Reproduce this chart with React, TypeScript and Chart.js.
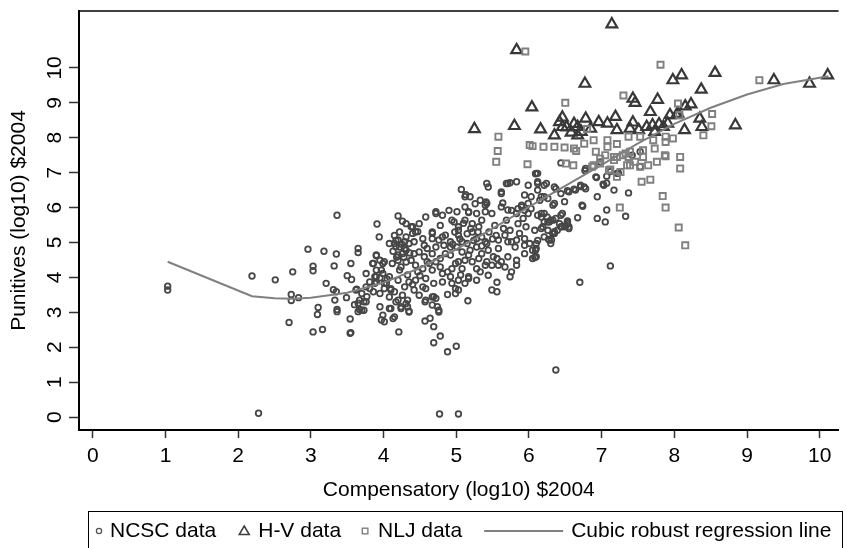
import React, { useEffect, useRef } from "react";
import { Chart, registerables } from "chart.js";

Chart.register(...registerables);

const xTicks = [0, 1, 2, 3, 4, 5, 6, 7, 8, 9, 10];
const yTicks = [0, 1, 2, 3, 4, 5, 6, 7, 8, 9, 10];
const xTitle = "Compensatory (log10) $2004";
const yTitle = "Punitives (log10) $2004";
const legendLabels = ["NCSC data", "H-V data", "NLJ data", "Cubic robust regression line"];

// NCSC data (circles)
const ncscPoints: [number, number][] = [
  [1.03, 3.75], [1.03, 3.64], [2.19, 4.04], [2.51, 3.93], [2.75, 4.16], [2.73, 3.51], [2.73, 3.34], [2.70, 2.71],
  [2.28, 0.11], [2.83, 3.42], [2.96, 4.81], [3.18, 4.75], [3.35, 4.67], [3.32, 4.33], [3.03, 4.32], [3.03, 4.19],
  [3.55, 4.40], [3.50, 4.05], [3.56, 3.94], [3.21, 3.83], [3.31, 3.65], [3.35, 3.59], [3.49, 3.42], [3.63, 3.66],
  [3.33, 3.35], [3.36, 3.08], [3.36, 3.02], [3.10, 3.14], [3.09, 2.94], [3.54, 2.81], [3.03, 2.44], [3.16, 2.51],
  [3.55, 2.42], [3.67, 3.08], [3.73, 3.06], [3.65, 3.02], [3.60, 3.22], [3.73, 3.30], [3.77, 3.45], [3.86, 3.59],
  [3.90, 3.87], [3.95, 3.99], [3.90, 4.21], [3.95, 4.49], [3.90, 4.62], [3.99, 4.40], [3.86, 4.40], [3.88, 4.02],
  [3.99, 4.11], [4.01, 3.83], [4.10, 3.64], [4.17, 3.30], [4.08, 4.97], [4.20, 5.07], [4.17, 4.88], [4.29, 4.83],
  [4.20, 5.76], [4.26, 5.61], [4.38, 5.45], [4.47, 5.31], [3.95, 3.16], [3.99, 2.92], [3.97, 2.78], [4.13, 2.82],
  [4.10, 3.11], [4.15, 2.87], [4.35, 3.03], [4.24, 3.16], [4.57, 3.30], [4.67, 3.21], [4.76, 3.06], [4.69, 3.45],
  [3.36, 5.78], [3.91, 5.53], [3.94, 5.16], [3.65, 4.83], [3.65, 4.71], [3.54, 2.40], [3.62, 3.64], [3.65, 3.26],
  [3.70, 3.06], [4.01, 2.73], [4.21, 2.44],
  [4.88, 1.87], [5.00, 2.03], [4.69, 2.13], [4.78, 2.32], [4.57, 2.75], [4.64, 2.83], [4.69, 2.59], [4.77, 0.09],
  [5.03, 0.09], [6.37, 1.35], [5.16, 3.33], [5.49, 3.64], [5.56, 3.59], [5.56, 3.86], [5.74, 4.02], [4.67, 3.44],
  [4.74, 3.16], [4.76, 3.01], [4.99, 3.68], [4.99, 3.54], [5.03, 3.64], [4.88, 3.51], [4.20, 3.35], [4.33, 3.35],
  [4.33, 3.16], [4.24, 3.11], [4.35, 3.01], [5.83, 4.35], [6.08, 4.57], [6.09, 4.78], [6.01, 4.97], [6.44, 5.78],
  [6.53, 5.54], [6.55, 5.40], [6.35, 5.26], [6.31, 5.07],
  [4.72, 5.83], [4.81, 5.78], [5.17, 5.88], [5.28, 5.83], [5.40, 5.88], [5.49, 5.83], [5.62, 6.02], [5.76, 5.92],
  [5.90, 6.07], [5.99, 5.83], [6.12, 5.78], [6.21, 5.83], [6.30, 5.64],
  [4.40, 5.45], [4.44, 5.30], [4.67, 5.30], [4.78, 5.49], [4.94, 5.64], [5.03, 5.45], [5.22, 5.54], [5.35, 5.64],
  [5.53, 5.49], [5.69, 5.64], [5.85, 5.54], [5.96, 5.45], [6.08, 5.35], [6.19, 5.45], [6.33, 5.26], [6.49, 5.45],
  [4.15, 4.97], [4.31, 5.16], [4.42, 5.02], [4.56, 4.92], [4.67, 5.11], [4.81, 5.16], [4.92, 5.02], [5.03, 5.21],
  [5.15, 4.97], [5.28, 5.11], [5.40, 5.02], [5.58, 5.07], [5.71, 5.02], [5.83, 5.07], [5.94, 4.92], [6.05, 4.78],
  [3.90, 4.64], [4.01, 4.45], [4.20, 4.64], [4.31, 4.78], [4.42, 4.68], [4.56, 4.59], [4.67, 4.68], [4.78, 4.54],
  [4.92, 4.64], [5.03, 4.45], [5.17, 4.64], [5.31, 4.54], [5.42, 4.45], [5.56, 4.54], [5.71, 4.59], [5.83, 4.49],
  [3.85, 4.40], [3.97, 4.21], [4.08, 4.02], [4.22, 4.21], [4.33, 4.07], [4.47, 4.16], [4.58, 3.97], [4.67, 4.21],
  [4.81, 4.11], [4.94, 4.25], [5.06, 4.07], [5.17, 4.02], [5.28, 4.25], [5.40, 4.35], [5.58, 4.35],
  [3.81, 3.87], [3.88, 3.83], [4.01, 3.68], [4.15, 3.59], [4.29, 3.73], [4.42, 3.64], [4.54, 3.73], [4.69, 3.83],
  [4.81, 3.87], [4.94, 3.83], [5.03, 3.92], [5.17, 3.97],
  [3.67, 3.35], [3.76, 3.30], [4.08, 3.11], [4.31, 3.25], [4.58, 3.35], [4.72, 3.40],
  [5.07, 6.52], [5.13, 6.37], [5.19, 6.31], [5.33, 6.21], [5.41, 6.16], [5.17, 5.86], [5.42, 6.69], [5.44, 6.59],
  [5.62, 6.45], [5.71, 6.69], [5.83, 6.74], [5.99, 6.64], [6.10, 6.98], [6.12, 6.69], [6.24, 6.69], [6.35, 6.59],
  [6.44, 6.40], [6.55, 6.45], [6.28, 5.07], [6.44, 5.45], [6.53, 5.59], [6.35, 5.31], [6.46, 5.83], [6.33, 6.07],
  [6.21, 6.31], [6.15, 6.21], [5.94, 6.36], [6.03, 6.31], [5.99, 6.12], [5.85, 5.97], [5.71, 5.93],
  [6.09, 6.97], [6.44, 7.28], [5.12, 6.31], [5.74, 6.71], [5.62, 6.40], [6.64, 6.50], [6.76, 6.59], [6.73, 6.07],
  [6.94, 6.31], [7.03, 6.64], [7.07, 5.93], [6.94, 5.69], [7.05, 5.59], [4.72, 5.88], [5.42, 6.12], [5.64, 6.13],
  [5.90, 6.02], [6.25, 5.73],
  [5.69, 6.69], [6.12, 6.74], [6.21, 6.64], [6.53, 6.48], [6.71, 6.60], [6.78, 7.12], [6.92, 6.88], [7.17, 6.50],
  [7.37, 6.42], [7.42, 7.50], [7.53, 7.60], [7.12, 7.03], [7.21, 6.98], [6.98, 7.31],
  [7.12, 4.33], [6.70, 3.86], [7.07, 6.90], [7.33, 5.75], [6.74, 6.04], [6.67, 5.71], [6.53, 5.62], [6.45, 5.45],
  [6.55, 5.45], [6.27, 5.09], [6.33, 5.26], [6.10, 4.59], [6.10, 4.97], [6.10, 4.83], [6.77, 7.06], [7.23, 6.99],
  [6.71, 6.64], [6.78, 6.54], [6.62, 6.53], [6.37, 6.54], [6.12, 6.50], [6.35, 6.12], [6.49, 6.17], [6.26, 6.26],
  [6.17, 6.31], [6.12, 6.98], [6.17, 5.83], [6.21, 5.59], [6.28, 5.59], [6.33, 5.64], [6.17, 5.40], [6.26, 5.35],
  [7.53, 7.17], [7.02, 6.67], [6.93, 6.86], [7.07, 6.70],
  [4.17, 5.06], [4.22, 4.87], [4.26, 4.68], [4.20, 4.49], [4.24, 4.30], [4.31, 4.44], [4.35, 4.97], [4.29, 5.02],
  [4.67, 5.26], [4.76, 5.07], [4.85, 5.21], [4.92, 4.87], [4.83, 4.92], [4.72, 4.87],
  [4.97, 5.59], [5.03, 5.35], [5.12, 5.64], [5.22, 5.30], [5.31, 5.45], [5.24, 5.06], [5.35, 5.16], [5.08, 5.02],
  [4.72, 4.45], [4.78, 4.30], [4.88, 4.16], [4.99, 4.40], [5.08, 4.25], [5.12, 4.49], [4.92, 4.02],
  [5.28, 4.87], [5.35, 4.68], [5.44, 4.78], [5.51, 4.59], [5.58, 4.83], [5.62, 4.45], [5.49, 4.35], [5.42, 4.97],
  [5.67, 5.21], [5.76, 5.02], [5.87, 5.26], [5.94, 5.11], [5.81, 4.87], [5.74, 5.35],
  [5.83, 5.83], [5.92, 5.69], [6.03, 5.97], [5.94, 5.92],
  [6.17, 5.73], [6.26, 5.59], [6.37, 5.69], [6.42, 5.54],
  [3.81, 3.68], [3.95, 3.54], [4.04, 3.83], [4.10, 3.68], [4.20, 3.92], [4.35, 3.87], [4.44, 3.92], [4.49, 3.49],
  [4.58, 3.68], [4.08, 3.44], [4.26, 3.49], [3.90, 4.02], [3.76, 4.11], [3.76, 3.73], [3.70, 3.54],
  [4.44, 4.35], [4.54, 4.25], [4.63, 4.40], [4.38, 4.49], [4.49, 4.73], [4.60, 4.83], [4.54, 5.11], [4.40, 5.26],
  [5.19, 4.78], [5.08, 4.73], [5.01, 4.87], [4.85, 4.68], [5.22, 4.45], [5.33, 4.16], [5.44, 4.06], [5.28, 3.92],
  [5.12, 3.83],
  [5.67, 4.30], [5.76, 4.16], [5.94, 4.68], [6.05, 4.54], [6.12, 5.06], [6.21, 5.16], [6.30, 4.97], [6.39, 5.35],
  [6.51, 5.49],
  [5.12, 6.02], [5.26, 6.11], [5.40, 6.07], [5.01, 5.88], [4.90, 5.92], [4.58, 5.73], [4.49, 5.54], [4.31, 5.54],
  [4.13, 4.75], [4.18, 4.58], [4.25, 4.95], [4.12, 4.40], [4.28, 4.58], [4.36, 4.70], [4.15, 5.20], [4.22, 5.30],
  [4.95, 4.95], [5.05, 5.10], [5.15, 5.25], [5.20, 5.40], [5.10, 5.55], [4.98, 5.30], [5.30, 5.30], [5.45, 5.30],
  [5.55, 5.20], [5.65, 5.40], [5.50, 5.10], [5.35, 4.90], [4.60, 4.45], [4.50, 4.05], [4.40, 3.80], [4.05, 3.95]
];

// H-V data (triangles)
const hvPoints: [number, number][] = [
  [5.83, 10.51], [7.14, 11.25], [6.77, 9.55], [6.04, 8.87], [5.25, 8.25], [5.80, 8.34], [6.16, 8.24], [8.10, 9.79],
  [7.98, 9.65], [8.56, 9.86], [9.37, 9.65], [9.86, 9.55], [10.11, 9.79], [8.37, 9.38], [7.43, 9.12], [7.46, 9.00],
  [7.77, 9.09], [7.67, 8.74], [8.15, 8.90], [8.23, 8.96], [8.03, 8.65], [7.94, 8.65], [6.46, 8.58], [6.78, 8.55],
  [6.96, 8.45], [7.08, 8.41], [7.19, 8.60], [7.43, 8.44], [7.70, 8.36], [7.79, 8.39], [7.91, 8.41], [8.14, 8.22],
  [8.35, 8.55], [8.38, 8.31], [8.84, 8.36], [6.46, 8.31], [6.67, 8.07], [6.35, 8.07], [6.72, 8.17], [6.85, 8.26],
  [7.21, 8.22], [7.39, 8.26], [7.51, 8.22], [7.62, 8.31], [7.73, 8.17], [7.85, 8.31], [8.05, 8.69], [6.42, 8.45],
  [6.52, 8.30], [6.58, 8.15], [6.62, 8.40], [6.67, 8.31]
];

// NLJ data (squares)
const nljPoints: [number, number][] = [
  [5.95, 10.47], [6.50, 9.00], [5.58, 8.03], [5.57, 7.62], [5.55, 7.31], [6.01, 7.79], [6.05, 7.76], [6.20, 7.74],
  [6.35, 7.74], [6.49, 7.72], [6.62, 7.69], [6.65, 7.62], [5.98, 7.24], [6.51, 7.26], [6.61, 7.21], [6.87, 7.17],
  [6.80, 8.25], [7.81, 10.09], [9.17, 9.65], [7.30, 9.21], [8.05, 8.98], [8.07, 8.65], [8.52, 8.68], [8.51, 8.33],
  [8.40, 8.07], [6.76, 7.83], [6.89, 7.93], [7.08, 7.93], [7.21, 7.82], [7.37, 8.03], [7.53, 8.03], [7.71, 7.93],
  [7.88, 8.03], [7.98, 7.98], [6.92, 7.60], [7.08, 7.74], [7.21, 7.45], [7.33, 7.55], [7.39, 7.60], [7.57, 7.64],
  [7.73, 7.69], [7.87, 7.50], [8.08, 7.45], [8.08, 7.12], [6.98, 7.26], [7.17, 7.36], [7.35, 7.21], [7.53, 7.17],
  [7.67, 6.80], [7.55, 6.74], [7.76, 7.31], [7.10, 7.07], [7.84, 6.33], [7.88, 6.00], [8.06, 5.43], [8.15, 4.92],
  [7.25, 6.00], [7.88, 7.47], [7.88, 7.88], [7.64, 7.21], [7.21, 6.88], [7.12, 7.09], [7.26, 7.02], [7.39, 7.21],
  [7.46, 7.31], [7.37, 7.45], [6.89, 7.21], [6.98, 7.40], [7.05, 7.50], [7.17, 7.45], [7.29, 7.50], [7.57, 7.45]
];

// Cubic robust regression line (fitted values)
const fitLine: [number, number][] = [
  [1.03, 4.45], [2.19, 3.46], [2.5, 3.40], [2.75, 3.39], [3.0, 3.42], [3.5, 3.56], [4.0, 3.85], [4.5, 4.27],
  [5.0, 4.80], [5.5, 5.40], [6.0, 6.02], [6.5, 6.62], [7.0, 7.22], [7.5, 7.84], [8.0, 8.40], [8.5, 8.86],
  [9.0, 9.24], [9.5, 9.54], [10.12, 9.76]
];

const FONT = "'Liberation Sans', Arial, Helvetica, sans-serif";
const FONT_SIZE = 21;

const toXY = (pts: [number, number][]) => pts.map(([x, y]) => ({ x, y }));

const frameTopPlugin = {
  id: "frameTop",
  afterDraw(chart: any) {
    const { ctx, chartArea } = chart;
    ctx.save();
    ctx.strokeStyle = "#000";
    ctx.lineWidth = 1.5;
    ctx.beginPath();
    ctx.moveTo(chartArea.left - 1, chartArea.top);
    ctx.lineTo(chartArea.right, chartArea.top);
    ctx.stroke();
    ctx.restore();
  },
};

// y tick labels drawn rotated (reading bottom-to-top), positioned by the y scale
const rotatedYTicksPlugin = {
  id: "rotatedYTicks",
  afterDraw(chart: any) {
    const { ctx } = chart;
    const scale = chart.scales.y;
    ctx.save();
    ctx.font = `${FONT_SIZE}px ${FONT}`;
    ctx.fillStyle = "#000";
    ctx.textAlign = "center";
    ctx.textBaseline = "middle";
    const cx = scale.right - 24;
    scale.ticks.forEach((t: any) => {
      const py = scale.getPixelForValue(t.value);
      ctx.save();
      ctx.translate(cx, py);
      ctx.rotate(-Math.PI / 2);
      ctx.fillText(String(t.value), 0, 0);
      ctx.restore();
    });
    ctx.restore();
  },
};

const boxLegendPlugin = {
  id: "boxLegend",
  afterDraw(chart: any) {
    const ctx = chart.ctx;
    ctx.save();
    ctx.strokeStyle = "#000";
    ctx.lineWidth = 1;
    ctx.strokeRect(88.5, 511.5, 754, 45);
    ctx.font = `${FONT_SIZE}px ${FONT}`;
    ctx.textBaseline = "middle";
    ctx.textAlign = "left";
    const cy = 531;
    let x = 99;
    ctx.strokeStyle = "#555";
    ctx.lineWidth = 1.3;
    ctx.beginPath();
    ctx.arc(x, cy, 2.6, 0, Math.PI * 2);
    ctx.stroke();
    x += 11;
    ctx.fillStyle = "#000";
    ctx.fillText(legendLabels[0], x, cy);
    x += ctx.measureText(legendLabels[0]).width + 28;
    ctx.strokeStyle = "#3c3c3c";
    ctx.lineWidth = 1.5;
    ctx.beginPath();
    ctx.moveTo(x, cy - 5);
    ctx.lineTo(x + 5, cy + 3.5);
    ctx.lineTo(x - 5, cy + 3.5);
    ctx.closePath();
    ctx.stroke();
    x += 14;
    ctx.fillText(legendLabels[1], x, cy);
    x += ctx.measureText(legendLabels[1]).width + 24;
    ctx.strokeStyle = "#808080";
    ctx.lineWidth = 1.4;
    ctx.strokeRect(x - 2.8, cy - 2.8, 5.6, 5.6);
    x += 13;
    ctx.fillText(legendLabels[2], x, cy);
    x += ctx.measureText(legendLabels[2]).width + 22;
    ctx.strokeStyle = "#808080";
    ctx.lineWidth = 2;
    ctx.beginPath();
    ctx.moveTo(x, cy);
    ctx.lineTo(x + 79, cy);
    ctx.stroke();
    x += 87;
    ctx.fillText(legendLabels[3], x, cy);
    ctx.restore();
  },
};

export default function App() {
  const ref = useRef<HTMLCanvasElement | null>(null);

  useEffect(() => {
    if (!ref.current) return;
    const chart = new Chart(ref.current, {
      type: "scatter",
      data: {
        datasets: [
          {
            label: legendLabels[3],
            data: toXY(fitLine),
            showLine: true,
            borderColor: "#808080",
            borderWidth: 2,
            pointRadius: 0,
            tension: 0,
            order: 0,
          } as any,
          {
            label: legendLabels[2],
            data: toXY(nljPoints),
            pointStyle: "rect",
            pointRadius: 4.3,
            borderColor: "#808080",
            borderWidth: 1.9,
            backgroundColor: "rgba(0,0,0,0)",
            order: 1,
          },
          {
            label: legendLabels[1],
            data: toXY(hvPoints),
            pointStyle: "triangle",
            pointRadius: 6.2,
            borderColor: "#383838",
            borderWidth: 2.2,
            backgroundColor: "rgba(0,0,0,0)",
            order: 2,
          },
          {
            label: legendLabels[0],
            data: toXY(ncscPoints),
            pointStyle: "circle",
            pointRadius: 2.8,
            borderColor: "#474747",
            borderWidth: 1.8,
            backgroundColor: "rgba(0,0,0,0)",
            order: 3,
          },
        ],
      },
      options: {
        animation: false,
        responsive: false,
        devicePixelRatio: 1,
        layout: { padding: { top: 11, right: 0, left: 0, bottom: 38 } },
        plugins: { legend: { display: false }, tooltip: { enabled: false } },
        scales: {
          x: {
            type: "linear",
            min: -0.19,
            max: 10.26,
            afterBuildTicks: (s: any) => {
              s.ticks = xTicks.map((v) => ({ value: v }));
            },
            afterFit: (s: any) => {
              s.height = 80;
            },
            ticks: {
              font: { family: FONT, size: FONT_SIZE },
              color: "#000",
              padding: 6,
              maxRotation: 0,
              autoSkip: false,
            },
            grid: {
              display: true,
              drawOnChartArea: false,
              drawTicks: true,
              tickLength: 8,
              tickColor: "#333",
              tickWidth: 1.5,
            },
            border: { display: true, color: "#000", width: 2 },
            title: {
              display: true,
              text: xTitle,
              font: { family: FONT, size: FONT_SIZE },
              color: "#000",
              padding: { top: 0, bottom: 7 },
            },
          },
          y: {
            type: "linear",
            min: -0.37,
            max: 11.63,
            afterBuildTicks: (s: any) => {
              s.ticks = yTicks.map((v) => ({ value: v }));
            },
            afterFit: (s: any) => {
              s.width = 79;
            },
            ticks: {
              display: false,
              font: { family: FONT, size: FONT_SIZE },
              autoSkip: false,
            },
            grid: {
              display: true,
              drawOnChartArea: false,
              drawTicks: true,
              tickLength: 10,
              tickColor: "#333",
              tickWidth: 1.5,
            },
            border: { display: true, color: "#000", width: 2 },
            title: {
              display: true,
              text: yTitle,
              font: { family: FONT, size: FONT_SIZE },
              color: "#000",
              padding: { top: 7, bottom: 0 },
            },
          },
        },
      },
      plugins: [frameTopPlugin, rotatedYTicksPlugin, boxLegendPlugin],
    });
    return () => chart.destroy();
  }, []);

  return (
    <div style={{ position: "absolute", left: 0, top: 0, width: 847, height: 548, background: "#fff" }}>
      <canvas ref={ref} width={847} height={548} />
    </div>
  );
}
